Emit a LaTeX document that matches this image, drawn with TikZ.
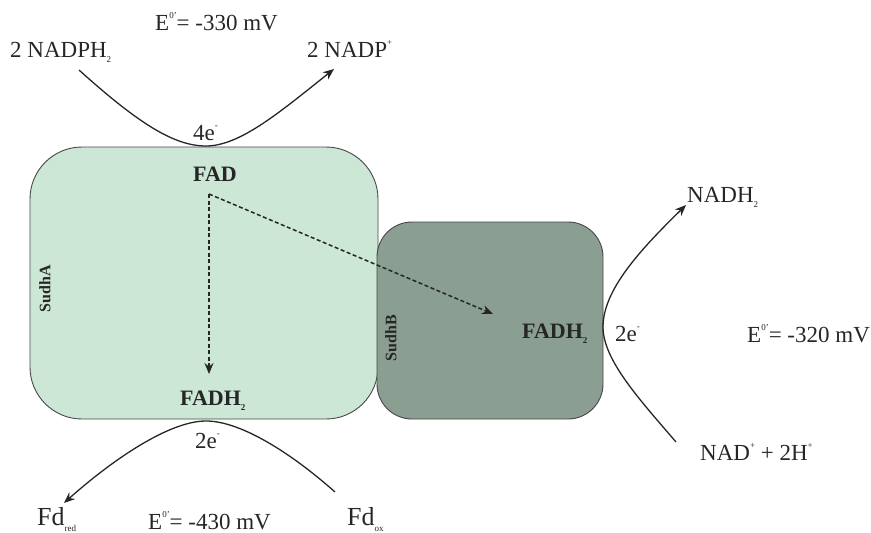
\documentclass[tikz,border=0pt]{standalone}
\usepackage{fontspec}
\setmainfont{Liberation Serif}
\usetikzlibrary{arrows.meta}
\newcommand\mysup[1]{\raisebox{0.5em}{\fontsize{9}{9}\selectfont #1}}
\newcommand\mysub[1]{\raisebox{-0.25em}{\fontsize{9}{9}\selectfont #1}}
\definecolor{lightbox}{HTML}{CDE7D6}
\definecolor{darkbox}{HTML}{8A9E91}
\definecolor{ink}{HTML}{262626}
\begin{document}
\begin{tikzpicture}[x=1pt,y=-1pt,
  lbl/.style={anchor=base west,inner sep=0pt,text=ink,font=\fontsize{23}{27}\selectfont},
  blbl/.style={anchor=base west,inner sep=0pt,text=ink,font=\fontsize{22}{26}\selectfont\bfseries},
  fdlbl/.style={anchor=base west,inner sep=0pt,text=ink,font=\fontsize{26}{30}\selectfont},
  sublbl/.style={inner sep=0pt,text=ink,rotate=90,font=\fontsize{16}{19}\selectfont\bfseries},
  curve/.style={draw=ink,line width=1.3pt},
  dash arrow/.style={draw=ink,line width=1.5pt,dash pattern=on 4pt off 2.5pt,-{Stealth[length=11pt,width=9pt]}},
  solid arrow/.style={curve,-{Stealth[length=11pt,width=9pt]}}
]
\useasboundingbox (0,0) rectangle (871,533);
% boxes
\node[draw=ink!85,line width=0.9pt,fill=lightbox,rounded corners=52pt,minimum width=348pt,minimum height=272pt,inner sep=0pt] (boxA) at (204,283) {};
\node[draw=ink!85,line width=0.9pt,fill=darkbox,rounded corners=35pt,minimum width=226pt,minimum height=197pt,inner sep=0pt] (boxB) at (490,320.5) {};
\node[sublbl] (sudhA) at (45,289) {SudhA};
\node[sublbl] (sudhB) at (391,338) {SudhB};
% labels
\node[lbl] (e330) at (155,30) {E\mysup{0'}= -330 mV};
\node[lbl] (nadph) at (10,57) {2 NADPH\mysub{2}};
\node[lbl] (nadp) at (307,57) {2 NADP\mysup{+}};
\node[lbl] (e4) at (193,140) {4e\mysup{-}};
\node[blbl] (fad) at (193,181) {FAD};
\node[blbl] (fadhA) at (180,405) {FADH\mysub{2}};
\node[blbl] (fadhB) at (522,338) {FADH\mysub{2}};
\node[lbl] (e2r) at (615,341) {2e\mysup{-}};
\node[lbl] (nadh) at (687,202) {NADH\mysub{2}};
\node[lbl] (e320) at (747,342) {E\mysup{0'}= -320 mV};
\node[lbl] (nad) at (700,460) {NAD\mysup{+} + 2H\mysup{+}};
\node[lbl] (e2b) at (195,448) {2e\mysup{-}};
\node[fdlbl] (fdred) at (37,525) {Fd\mysub{red}};
\node[lbl] (e430) at (148,529) {E\mysup{0'}= -430 mV};
\node[fdlbl] (fdox) at (347,525) {Fd\mysub{ox}};
% coordinates
\coordinate (fadpt) at (209,194);
\coordinate (tipA) at (209,374);
\coordinate (tipB) at (493,314);
\coordinate (topS) at (79,70);
\coordinate (topE) at (334,69);
\coordinate (rS) at (676,442);
\coordinate (rE) at (686,205);
\coordinate (bS) at (335,492);
\coordinate (bE) at (64,503);
% dashed arrows
\draw[dash arrow] (fadpt) -- (tipA);
\draw[dash arrow] (fadpt) -- (tipB);
% curves
\draw[solid arrow] (topS) .. controls (140,125) and (175,146) .. (206,146) .. controls (240,146) and (280,112) .. (topE);
\draw[solid arrow] (rS) .. controls (640,400) and (603,360) .. (603,327) .. controls (603,290) and (640,250) .. (rE);
\draw[solid arrow] (bS) .. controls (290,452) and (240,421) .. (206,421) .. controls (168,421) and (110,462) .. (bE);
\end{tikzpicture}
\end{document}
